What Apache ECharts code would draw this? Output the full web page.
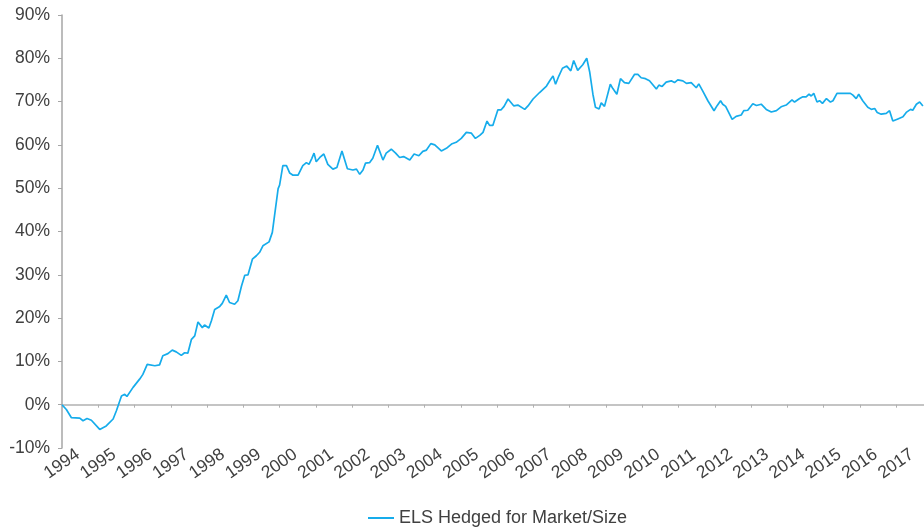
<!DOCTYPE html>
<html>
<head>
<meta charset="utf-8">
<script src="https://cdn.jsdelivr.net/npm/echarts@6/dist/echarts.min.js"></script>
<style>
  html, body { margin: 0; padding: 0; background: #fff; }
  #main { width: 924px; height: 529px; }
</style>
</head>
<body>
<div id="main"></div>
<script>
// series name
const seriesName = "ELS Hedged for Market/Size";

// decimal year of each point
const years = [
  1994.00, 1994.12, 1994.26, 1994.49, 1994.58, 1994.69, 1994.81, 1995.04, 1995.22, 1995.41,
  1995.50, 1995.64, 1995.73, 1995.79, 1995.96, 1996.14, 1996.23, 1996.35, 1996.56, 1996.69,
  1996.78, 1996.92, 1997.04, 1997.15, 1997.29, 1997.38, 1997.47, 1997.57, 1997.66, 1997.75,
  1997.87, 1997.93, 1998.05, 1998.12, 1998.21, 1998.35, 1998.42, 1998.53, 1998.62, 1998.76,
  1998.85, 1998.95, 1999.04, 1999.13, 1999.25, 1999.36, 1999.45, 1999.54, 1999.71, 1999.80,
  1999.86, 1999.96, 2000.00, 2000.09, 2000.19, 2000.28, 2000.37, 2000.51, 2000.64, 2000.74,
  2000.81, 2000.89, 2000.95, 2001.01, 2001.11, 2001.22, 2001.33, 2001.47, 2001.58, 2001.72,
  2001.87, 2002.02, 2002.12, 2002.21, 2002.30, 2002.37, 2002.48, 2002.57, 2002.70, 2002.85,
  2002.94, 2003.08, 2003.20, 2003.31, 2003.42, 2003.59, 2003.71, 2003.84, 2003.95, 2004.05,
  2004.17, 2004.28, 2004.46, 2004.60, 2004.74, 2004.87, 2005.01, 2005.15, 2005.29, 2005.40,
  2005.52, 2005.61, 2005.72, 2005.79, 2005.88, 2006.02, 2006.11, 2006.19, 2006.30, 2006.46,
  2006.57, 2006.76, 2006.85, 2006.99, 2007.17, 2007.36, 2007.45, 2007.54, 2007.61, 2007.70,
  2007.80, 2007.92, 2008.03, 2008.11, 2008.22, 2008.36, 2008.47, 2008.55, 2008.64, 2008.71,
  2008.81, 2008.87, 2008.96, 2009.12, 2009.19, 2009.30, 2009.40, 2009.51, 2009.63, 2009.79,
  2009.88, 2009.97, 2010.09, 2010.20, 2010.39, 2010.46, 2010.55, 2010.66, 2010.80, 2010.89,
  2010.98, 2011.12, 2011.22, 2011.35, 2011.49, 2011.56, 2011.67, 2011.81, 2011.98, 2012.06,
  2012.16, 2012.22, 2012.30, 2012.48, 2012.59, 2012.73, 2012.80, 2012.91, 2013.05, 2013.15,
  2013.28, 2013.42, 2013.56, 2013.70, 2013.83, 2013.97, 2014.13, 2014.20, 2014.34, 2014.43,
  2014.52, 2014.60, 2014.66, 2014.73, 2014.82, 2014.89, 2014.97, 2015.08, 2015.19, 2015.26,
  2015.37, 2015.49, 2015.63, 2015.74, 2015.81, 2015.90, 2015.97, 2016.08, 2016.22, 2016.32,
  2016.41, 2016.48, 2016.59, 2016.73, 2016.82, 2016.91, 2017.05, 2017.19, 2017.28, 2017.40,
  2017.46, 2017.56, 2017.65, 2017.74
];

// cumulative return, %
const values = [
  0.0, -1.1, -3.0, -3.1, -3.7, -3.2, -3.6, -5.7, -4.9, -3.3,
  -1.4, 2.0, 2.4, 1.9, 4.0, 5.9, 7.0, 9.3, 9.0, 9.2,
  11.3, 11.8, 12.6, 12.2, 11.4, 12.0, 11.9, 15.1, 15.9, 19.1,
  17.8, 18.4, 17.7, 19.4, 22.0, 22.7, 23.4, 25.3, 23.6, 23.2,
  24.0, 27.4, 29.9, 30.0, 33.6, 34.4, 35.2, 36.7, 37.6, 39.8,
  43.6, 49.9, 50.7, 55.2, 55.2, 53.5, 53.0, 53.0, 55.2, 55.9,
  55.5, 56.9, 58.1, 56.1, 57.1, 57.9, 55.5, 54.4, 54.8, 58.6,
  54.5, 54.2, 54.4, 53.2, 54.2, 55.8, 55.9, 56.9, 59.9, 56.5,
  58.1, 59.0, 58.1, 57.1, 57.3, 56.5, 57.9, 57.5, 58.5, 58.8,
  60.3, 60.0, 58.6, 59.2, 60.2, 60.6, 61.5, 62.9, 62.7, 61.5,
  62.2, 62.9, 65.5, 64.5, 64.5, 68.1, 68.1, 68.9, 70.6, 69.0,
  69.2, 68.2, 69.0, 70.6, 72.1, 73.6, 74.8, 75.9, 74.0, 75.9,
  77.7, 78.2, 77.1, 79.5, 77.2, 78.5, 80.0, 76.9, 71.7, 68.7,
  68.3, 69.7, 68.9, 74.0, 73.0, 71.7, 75.3, 74.4, 74.2, 76.3,
  76.3, 75.5, 75.3, 74.8, 72.9, 73.8, 73.5, 74.5, 74.8, 74.4,
  75.0, 74.8, 74.2, 74.4, 73.2, 74.1, 72.4, 70.2, 67.9, 69.0,
  70.2, 69.4, 68.9, 65.9, 66.6, 66.9, 67.9, 68.0, 69.5, 69.1,
  69.4, 68.2, 67.6, 67.9, 68.8, 69.2, 70.4, 69.9, 70.7, 71.1,
  71.1, 71.7, 71.3, 71.9, 69.9, 70.2, 69.6, 70.7, 69.9, 70.2,
  71.9, 71.9, 71.9, 71.9, 71.5, 70.7, 71.7, 70.2, 68.7, 68.2,
  68.4, 67.5, 67.1, 67.3, 67.9, 65.5, 66.0, 66.5, 67.5, 68.2,
  68.0, 69.4, 69.9, 69.0
];

// x tick labels
const yearTicks = [
  1994, 1995, 1996, 1997, 1998, 1999, 2000, 2001, 2002, 2003, 2004, 2005,
  2006, 2007, 2008, 2009, 2010, 2011, 2012, 2013, 2014, 2015, 2016, 2017
];

// y tick labels
const pctTicks = [-10, 0, 10, 20, 30, 40, 50, 60, 70, 80, 90];

const textColor = "#404040";
const fontFamily = "'Liberation Sans', Arial, sans-serif";

var myChart = echarts.init(document.getElementById("main"));
var option;

option = {
  animation: false,
  textStyle: { fontFamily: fontFamily },
  grid: {
    left: 62,
    right: 0,
    top: 15,
    bottom: 81,
    containLabel: false,
  },
  legend: {
    data: [seriesName],
    left: 368,
    top: 509,
    padding: 0,
    icon: "rect",
    itemWidth: 26,
    itemHeight: 2,
    textStyle: {
      color: textColor,
      fontSize: 18,
      fontFamily: fontFamily,
    },
  },
  xAxis: [
    {
      // zero line with year ticks
      type: "value",
      min: 1994,
      max: 2017.77,
      interval: 1,
      axisLine: {
        show: true,
        onZero: true,
        lineStyle: { color: "#c4c4c4", width: 2 },
      },
      axisTick: {
        show: true,
        length: 3,
        customValues: yearTicks,
        lineStyle: { color: "#b0b0b0", width: 1 },
      },
      axisLabel: { show: false },
      splitLine: { show: false },
    },
    {
      // year labels along the bottom
      type: "value",
      position: "bottom",
      min: 1994,
      max: 2017.77,
      interval: 1,
      axisLine: { show: false, onZero: false },
      axisTick: { show: false },
      splitLine: { show: false },
      axisLabel: {
        show: true,
        customValues: yearTicks,
        rotate: 35,
        align: "center",
        verticalAlign: "middle",
        margin: 16,
        color: textColor,
        fontSize: 17.5,
        fontFamily: fontFamily,
        formatter: function (v) {
          return String(Math.round(v));
        },
      },
    },
  ],
  yAxis: {
    type: "value",
    min: -10,
    max: 90,
    interval: 10,
    axisLine: {
      show: true,
      lineStyle: { color: "#a6a6a6", width: 1.5 },
    },
    axisTick: {
      show: true,
      inside: false,
      length: 4,
      lineStyle: { color: "#a6a6a6", width: 1 },
    },
    splitLine: { show: false },
    axisLabel: {
      customValues: pctTicks,
      margin: 12,
      color: textColor,
      fontSize: 17.5,
      fontFamily: fontFamily,
      formatter: "{value}%",
    },
  },
  series: [
    {
      name: seriesName,
      type: "line",
      xAxisIndex: 0,
      showSymbol: false,
      smooth: false,
      lineStyle: { width: 1.7, color: "#16aceb" },
      itemStyle: { color: "#16aceb" },
      data: years.map(function (y, i) {
        return [y, values[i]];
      }),
    },
  ],
};

option && myChart.setOption(option);
</script>
</body>
</html>
